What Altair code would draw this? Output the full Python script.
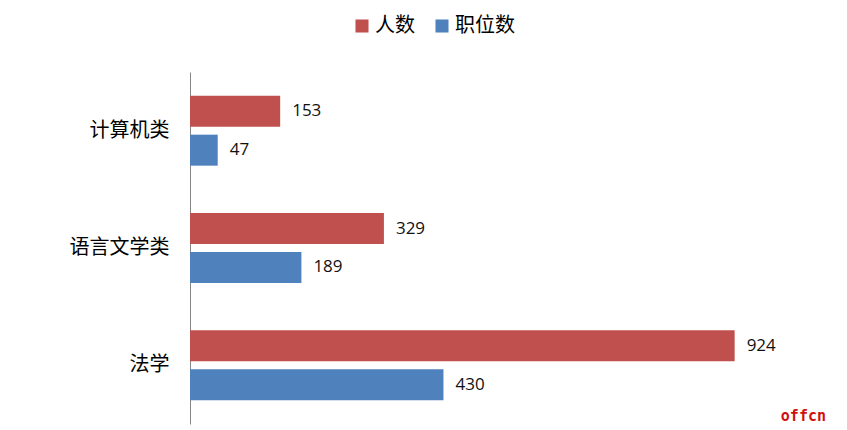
import altair as alt
import pandas as pd

categories = ["计算机类", "语言文学类", "法学"]
series_names = ["人数", "职位数"]
people = [153, 329, 924]
positions = [47, 189, 430]
colors = ["#C0504D", "#4F81BD"]

rows = []
for c, p, q in zip(categories, people, positions):
    rows.append({"cat": c, "series": series_names[0], "value": p})
    rows.append({"cat": c, "series": series_names[1], "value": q})
df = pd.DataFrame(rows)

y = alt.Y("cat:N", sort=categories, title=None,
          scale=alt.Scale(paddingInner=0, paddingOuter=0),
          axis=alt.Axis(domain=True, domainColor="#868686", domainWidth=1,
                        ticks=False, grid=False, labelPadding=21,
                        labelFont="Noto Sans CJK SC", labelFontSize=20,
                        labelColor="#000000"))
yoff = alt.YOffset("series:N", sort=series_names,
                   scale=alt.Scale(paddingInner=0.205, paddingOuter=0.607))
x = alt.X("value:Q", axis=None, scale=alt.Scale(domain=[0, 1079], nice=False, zero=True))

bars = alt.Chart(df).mark_bar().encode(
    x=x, y=y, yOffset=yoff,
    color=alt.Color("series:N", sort=series_names,
                    scale=alt.Scale(domain=series_names, range=colors),
                    legend=alt.Legend(title=None, orient="none", direction="horizontal",
                                      legendX=162, legendY=-56, padding=0,
                                      symbolType="square", symbolSize=170,
                                      symbolStrokeWidth=0, symbolOpacity=1,
                                      labelFont="Noto Sans CJK SC", labelFontSize=20,
                                      labelColor="#000000", labelOffset=3,
                                      columnPadding=17)),
)

labels = alt.Chart(df).mark_text(align="left", baseline="middle", dx=12,
                                 font="Open Sans", fontSize=17, fontWeight=500,
                                 color="#111111").encode(
    x=x, y=alt.Y("cat:N", sort=categories), yOffset=alt.YOffset("series:N", sort=series_names),
    text=alt.Text("value:Q"),
)

chart = alt.layer(bars, labels).properties(
    width=636, height=352,
    background="#ffffff",
    title=alt.TitleParams("offcn", orient="bottom", anchor="end", frame="group",
                          font="DejaVu Sans Mono", fontSize=15, fontWeight="bold",
                          color="#d01010", baseline="bottom", offset=0, dy=0),
    autosize=alt.AutoSizeParams(type="none"),
    padding={"left": 182, "top": 64, "right": 8, "bottom": 6},
).configure_view(stroke=None)

chart.save("out.html", embed_options={"renderer": "svg", "actions": False})
